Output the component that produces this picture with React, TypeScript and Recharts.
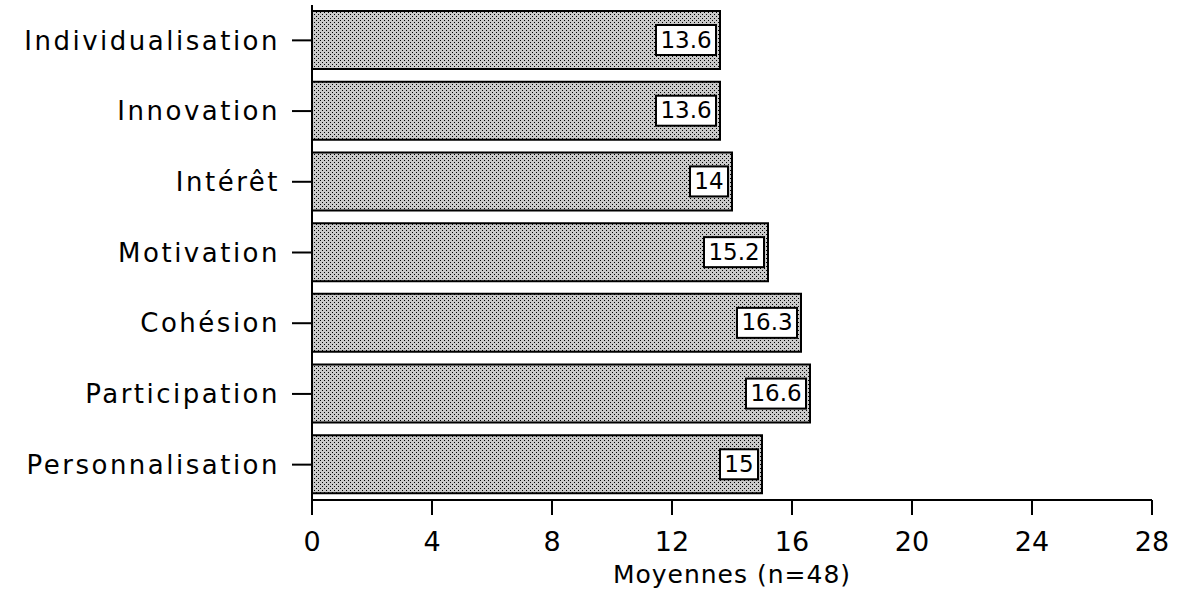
import { BarChart, Bar, XAxis, YAxis, LabelList, Label } from "recharts";

const categories = [
  "Individualisation",
  "Innovation",
  "Intérêt",
  "Motivation",
  "Cohésion",
  "Participation",
  "Personnalisation",
];
const moyennes = [13.6, 13.6, 14, 15.2, 16.3, 16.6, 15];
const xTicks = [0, 4, 8, 12, 16, 20, 24, 28];

const data = categories.map((name, i) => ({ name, moyenne: moyennes[i] }));

const FONT = "'DejaVu Sans', sans-serif";

const ValueBox = (props: any) => {
  const { x, y, width, height, value } = props;
  const s = String(value);
  const digits = s.replace(".", "").length;
  const dots = s.length - digits;
  const w = digits * 15 + dots * 7 + 8;
  const h = 30;
  const right = x + width - 4;
  const cy = y + height / 2;
  return (
    <g>
      <rect
        x={right - w}
        y={cy - h / 2}
        width={w}
        height={h}
        fill="#fff"
        stroke="#000"
        strokeWidth={2}
      />
      <text
        x={right - w / 2}
        y={cy + 1}
        textAnchor="middle"
        dominantBaseline="middle"
        fontFamily={FONT}
        fontSize={23}
        fill="#000"
      >
        {s}
      </text>
    </g>
  );
};

export default function App() {
  return (
    <div style={{ position: "absolute", left: 0, top: 0, background: "#fff" }}>
      <BarChart
        width={1177}
        height={591}
        data={data}
        layout="vertical"
        margin={{ top: 5, right: 25, left: 0, bottom: 0 }}
        barCategoryGap={0}
        style={{ fontFamily: FONT }}
      >
        <defs>
          <pattern id="stipple" width={4} height={4} patternUnits="userSpaceOnUse">
            <rect width={4} height={4} fill="#c9c9c9" />
            <rect x={0} y={0} width={1} height={1} fill="#000" />
            <rect x={2} y={2} width={1} height={1} fill="#000" />
          </pattern>
        </defs>
        <XAxis
          type="number"
          domain={[0, 28]}
          ticks={xTicks}
          height={91}
          axisLine={{ stroke: "#000", strokeWidth: 2 }}
          tickLine={{ stroke: "#000", strokeWidth: 2 }}
          tickSize={15}
          tickMargin={17}
          tick={{ fill: "#000", fontSize: 27, fontFamily: FONT }}
        >
          <Label
            value="Moyennes (n=48)"
            position="insideBottom"
            offset={8}
            fill="#000"
            fontSize={25}
            fontFamily={FONT}
            letterSpacing={1}
          />
        </XAxis>
        <YAxis
          type="category"
          dataKey="name"
          width={312}
          axisLine={{ stroke: "#000", strokeWidth: 2 }}
          tickLine={{ stroke: "#000", strokeWidth: 2 }}
          tickSize={20}
          tickMargin={12}
          tick={{ fill: "#000", fontSize: 26, fontFamily: FONT, letterSpacing: 2.5 }}
        />
        <Bar
          dataKey="moyenne"
          fill="url(#stipple)"
          stroke="#000"
          strokeWidth={2}
          barSize={58}
          isAnimationActive={false}
        >
          <LabelList dataKey="moyenne" content={ValueBox} />
        </Bar>
      </BarChart>
    </div>
  );
}
